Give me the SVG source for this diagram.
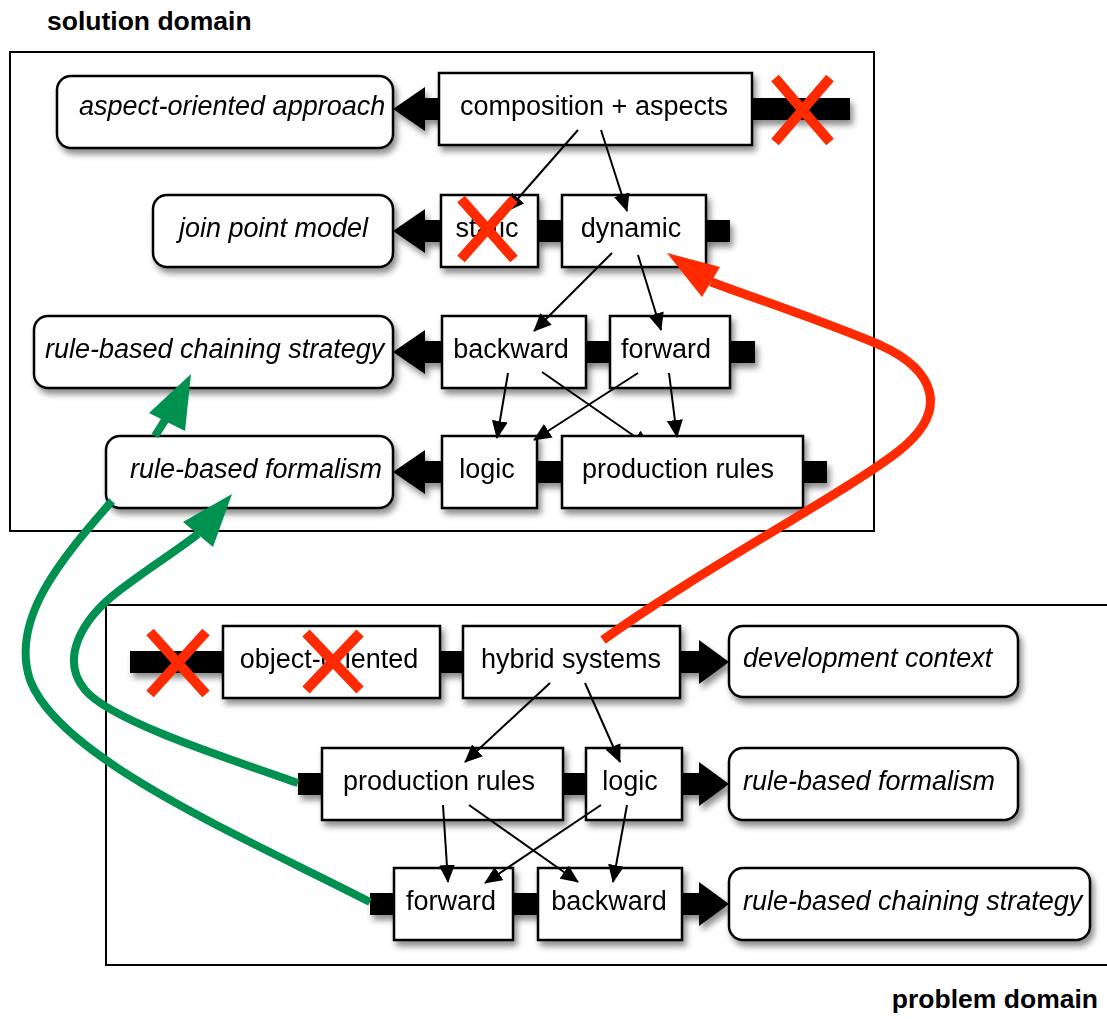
<svg xmlns="http://www.w3.org/2000/svg" width="1107" height="1019" viewBox="0 0 1107 1019">
  <defs>
    <filter id="sh" x="-10%" y="-20%" width="130%" height="160%">
      <feDropShadow dx="3" dy="5" stdDeviation="3" flood-color="#000" flood-opacity="0.45"/>
    </filter>
    <marker id="ah" markerUnits="userSpaceOnUse" markerWidth="19" markerHeight="16" refX="17" refY="8" orient="auto">
      <path d="M0,0 L18,8 L0,16 Z" fill="#000"/>
    </marker>
    <style>
      .frame { fill: none; stroke: #000; stroke-width: 2; }
      .title { font-family: "Liberation Sans", Arial, sans-serif; font-size: 26.5px; font-weight: bold; fill: #000; }
      .box { fill: #fff; stroke: #000; stroke-width: 2.5; }
      .lbl { font-family: "Liberation Sans", Arial, sans-serif; font-size: 27px; fill: #000; text-anchor: middle; }
      .ital { font-family: "Liberation Sans", Arial, sans-serif; font-size: 27px; font-style: italic; fill: #000; }
      .thick { fill: #000; }
      .thin { fill: none; stroke: #000; stroke-width: 2; marker-end: url(#ah); }
      .cross { stroke: #ff2a00; stroke-width: 10; fill: none; }
      .green { fill: none; stroke: #009150; stroke-width: 8; }
      .red { fill: none; stroke: #ff2a00; stroke-width: 9; }
    </style>
  </defs>

  <rect width="1107" height="1019" fill="#fff"/>

  <!-- domain frames -->
  <g id="frames">
    <rect class="frame" x="10" y="52" width="864" height="479"/>
    <path class="frame" d="M1110,605 H106 V965 H1110"/>
    <text class="title" x="47" y="30">solution domain</text>
    <text class="title" x="1098" y="1008" text-anchor="end">problem domain</text>
  </g>

  <!-- thick refinement connectors (drawn beneath the boxes) -->
  <g id="connectors-thick" filter="url(#sh)">
    <!-- solution side, pointing left -->
    <path class="thick" d="M441,98 H425 V87 L393,109 L425,131 V120 H441 Z"/>
    <rect class="thick" x="750" y="98" width="100" height="22"/>
    <path class="thick" d="M443,220 H425 V209 L393,231 L425,253 V242 H443 Z"/>
    <rect class="thick" x="536" y="220" width="28" height="22"/>
    <rect class="thick" x="704" y="220" width="26" height="22"/>
    <path class="thick" d="M444,341 H425 V330 L393,352 L425,374 V363 H444 Z"/>
    <rect class="thick" x="584" y="341" width="28" height="22"/>
    <rect class="thick" x="728" y="341" width="27" height="22"/>
    <path class="thick" d="M444,461 H425 V450 L393,472 L425,494 V483 H444 Z"/>
    <rect class="thick" x="535" y="461" width="29" height="22"/>
    <rect class="thick" x="801" y="461" width="26" height="22"/>
    <!-- problem side, pointing right -->
    <rect class="thick" x="130" y="651" width="95" height="22"/>
    <rect class="thick" x="438" y="651" width="27" height="22"/>
    <path class="thick" d="M678,651 H699 V640 L729,662 L699,684 V673 H678 Z"/>
    <rect class="thick" x="298" y="773" width="26" height="22"/>
    <rect class="thick" x="561" y="773" width="27" height="22"/>
    <path class="thick" d="M680,773 H699 V762 L729,784 L699,806 V795 H680 Z"/>
    <rect class="thick" x="370" y="893" width="26" height="22"/>
    <rect class="thick" x="511" y="893" width="29" height="22"/>
    <path class="thick" d="M680,893 H699 V882 L729,904 L699,926 V915 H680 Z"/>
  </g>

  <!-- solution domain nodes -->
  <g id="sol-aspect-oriented" filter="url(#sh)">
    <rect class="box" x="57" y="76" width="336" height="72" rx="14"/>
    <text class="ital" x="79" y="115">aspect-oriented approach</text>
  </g>
  <g id="sol-composition" filter="url(#sh)">
    <rect class="box" x="439" y="73" width="313" height="72"/>
    <text class="lbl" x="594" y="115">composition + aspects</text>
  </g>
  <g id="sol-join-point" filter="url(#sh)">
    <rect class="box" x="153" y="195" width="240" height="72" rx="14"/>
    <text class="ital" x="179" y="237">join point model</text>
  </g>
  <g id="sol-static" filter="url(#sh)">
    <rect class="box" x="441" y="195" width="97" height="72"/>
    <text class="lbl" x="487" y="237">static</text>
  </g>
  <g id="sol-dynamic" filter="url(#sh)">
    <rect class="box" x="562" y="195" width="144" height="72"/>
    <text class="lbl" x="631" y="237">dynamic</text>
  </g>
  <g id="sol-chaining" filter="url(#sh)">
    <rect class="box" x="34" y="316" width="359" height="72" rx="14"/>
    <text class="ital" x="45" y="358">rule-based chaining strategy</text>
  </g>
  <g id="sol-backward" filter="url(#sh)">
    <rect class="box" x="442" y="316" width="144" height="72"/>
    <text class="lbl" x="511" y="358">backward</text>
  </g>
  <g id="sol-forward" filter="url(#sh)">
    <rect class="box" x="610" y="316" width="120" height="72"/>
    <text class="lbl" x="666" y="358">forward</text>
  </g>
  <g id="sol-formalism" filter="url(#sh)">
    <rect class="box" x="106" y="436" width="287" height="72" rx="14"/>
    <text class="ital" x="130" y="478">rule-based formalism</text>
  </g>
  <g id="sol-logic" filter="url(#sh)">
    <rect class="box" x="442" y="436" width="95" height="72"/>
    <text class="lbl" x="487" y="478">logic</text>
  </g>

  <!-- thin connector whose head tucks under its target box -->
  <g id="connectors-under">
    <line class="thin" x1="542" y1="372" x2="650" y2="447"/>
  </g>

  <g id="sol-production" filter="url(#sh)">
    <rect class="box" x="562" y="436" width="241" height="72"/>
    <text class="lbl" x="678" y="478">production rules</text>
  </g>

  <!-- problem domain nodes -->
  <g id="prob-object-oriented" filter="url(#sh)">
    <rect class="box" x="223" y="626" width="217" height="72"/>
    <text class="lbl" x="329" y="668">object-oriented</text>
  </g>
  <g id="prob-hybrid" filter="url(#sh)">
    <rect class="box" x="463" y="626" width="217" height="72"/>
    <text class="lbl" x="571" y="668">hybrid systems</text>
  </g>
  <g id="prob-context" filter="url(#sh)">
    <rect class="box" x="729" y="626" width="289" height="71" rx="14"/>
    <text class="ital" x="743" y="667">development context</text>
  </g>
  <g id="prob-production" filter="url(#sh)">
    <rect class="box" x="322" y="748" width="241" height="72"/>
    <text class="lbl" x="439" y="790">production rules</text>
  </g>
  <g id="prob-logic" filter="url(#sh)">
    <rect class="box" x="586" y="748" width="96" height="72"/>
    <text class="lbl" x="630" y="790">logic</text>
  </g>
  <g id="prob-formalism" filter="url(#sh)">
    <rect class="box" x="729" y="748" width="289" height="72" rx="14"/>
    <text class="ital" x="743" y="790">rule-based formalism</text>
  </g>
  <g id="prob-forward" filter="url(#sh)">
    <rect class="box" x="394" y="868" width="119" height="72"/>
    <text class="lbl" x="451" y="910">forward</text>
  </g>
  <g id="prob-backward" filter="url(#sh)">
    <rect class="box" x="538" y="868" width="144" height="72"/>
    <text class="lbl" x="609" y="910">backward</text>
  </g>
  <g id="prob-chaining" filter="url(#sh)">
    <rect class="box" x="729" y="868" width="361" height="72" rx="14"/>
    <text class="ital" x="743" y="910">rule-based chaining strategy</text>
  </g>

  <!-- thin specialisation connectors -->
  <g id="connectors">
    <line class="thin" x1="578" y1="130" x2="507" y2="211"/>
    <line class="thin" x1="601" y1="130" x2="627" y2="211"/>
    <line class="thin" x1="612" y1="253" x2="534" y2="331"/>
    <line class="thin" x1="638" y1="255" x2="661" y2="330"/>
    <line class="thin" x1="508" y1="373" x2="497" y2="438"/>
    <line class="thin" x1="638" y1="373" x2="534" y2="440"/>
    <line class="thin" x1="669" y1="373" x2="677" y2="437"/>

    <line class="thin" x1="550" y1="683" x2="465" y2="762"/>
    <line class="thin" x1="585" y1="683" x2="620" y2="762"/>
    <line class="thin" x1="443" y1="805" x2="448" y2="882"/>
    <line class="thin" x1="469" y1="805" x2="578" y2="882"/>
    <line class="thin" x1="601" y1="805" x2="485" y2="883"/>
    <line class="thin" x1="627" y1="805" x2="613" y2="882"/>
  </g>

  <!-- excluded options -->
  <g id="crosses">
    <path class="cross" d="M775,78 L830,142 M830,78 L775,142"/>
    <path class="cross" d="M461,199 L514,259 M514,199 L461,259"/>
    <path class="cross" d="M150,632 L206,694 M206,632 L150,694"/>
    <path class="cross" d="M306,633 L360,690 M360,633 L306,690"/>
  </g>

  <!-- traceability links between the domains -->
  <g id="traces">
    <path class="green" d="M370,902 C250,840 60,760 30,680 C10,620 60,560 112,501"/>
    <path class="green" d="M155,436 L172,409"/>
    <polygon fill="#009150" points="191,374 149,413 185,431"/>
    <path class="green" d="M298,783 C220,756 110,720 85,690 C60,660 80,620 120,590 C150,567 175,552 198,534"/>
    <polygon fill="#009150" points="232,494 183,522 213,547"/>
    <path class="red" d="M603,640 C700,570 850,490 900,450 C950,410 935,370 880,345 C820,320 760,300 711,282"/>
    <polygon fill="#ff2a00" points="667,253 720,267 702,297"/>
  </g>
</svg>
